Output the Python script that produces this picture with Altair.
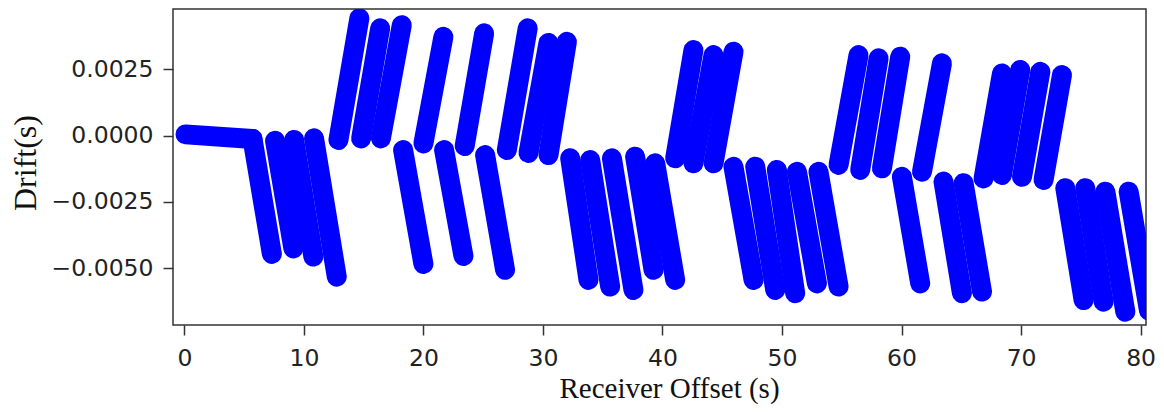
import altair as alt
import pandas as pd

# Each streak of overlapping markers, read off the picture as start/end points
# (receiver offset in s, drift in s)
streak_x0 = [0.10, 5.70, 7.59, 9.18, 10.85, 12.89, 14.79, 16.44, 18.30, 20.00,
             21.73, 23.45, 25.16, 26.98, 28.79, 30.46, 32.28, 33.95, 35.77, 37.71,
             39.39, 41.06, 42.59, 44.27, 45.94, 47.76, 49.57, 51.25, 53.05, 54.73,
             56.54, 58.36, 60.03, 61.71, 63.51, 65.19, 66.86, 68.40, 70.08, 71.88,
             73.70, 75.37, 77.05, 79.00]
streak_y0 = [0.00005, -0.00012, -0.00019, -0.00016, -0.00010, -0.00016, -0.00010, -0.00010, -0.00054, -0.00029,
             -0.00054, -0.00039, -0.00073, -0.00054, -0.00065, -0.00073, -0.00085, -0.00092, -0.00085, -0.00079,
             -0.00104, -0.00085, -0.00104, -0.00104, -0.00117, -0.00117, -0.00129, -0.00136, -0.00136, -0.00110,
             -0.00129, -0.00123, -0.00155, -0.00136, -0.00173, -0.00179, -0.00161, -0.00148, -0.00155, -0.00167,
             -0.00198, -0.00198, -0.00211, -0.00211]
streak_x1 = [5.70, 7.32, 9.12, 10.79, 12.75, 14.64, 16.38, 18.19, 20.00, 21.67,
             23.35, 25.08, 26.83, 28.72, 30.46, 32.00, 33.81, 35.62, 37.57, 39.25,
             41.06, 42.59, 44.27, 45.94, 47.62, 49.43, 51.10, 52.92, 54.73, 56.40,
             58.08, 59.89, 61.56, 63.38, 65.05, 66.73, 68.40, 69.93, 71.61, 73.42,
             75.23, 76.90, 78.72, 80.70]
streak_y1 = [-0.00012, -0.00446, -0.00425, -0.00456, -0.00532, 0.00443, 0.00405, 0.00417, -0.00484, 0.00373,
             -0.00454, 0.00386, -0.00506, 0.00405, 0.00350, 0.00354, -0.00544, -0.00569, -0.00582, -0.00506,
             -0.00544, 0.00323, 0.00304, 0.00317, -0.00544, -0.00582, -0.00594, -0.00557, -0.00569, 0.00304,
             0.00292, 0.00298, -0.00557, 0.00273, -0.00594, -0.00588, 0.00235, 0.00248, 0.00241, 0.00229,
             -0.00620, -0.00626, -0.00664, -0.00660]

x_ticks = [0, 10, 20, 30, 40, 50, 60, 70, 80]
y_ticks = [-0.005, -0.0025, 0.0, 0.0025]

rows = []
for i, (a, b, c, d) in enumerate(zip(streak_x0, streak_y0, streak_x1, streak_y1)):
    rows.append({"streak": i, "pt": 0, "offset": a, "drift": b})
    rows.append({"streak": i, "pt": 1, "offset": c, "drift": d})
df = pd.DataFrame(rows)

chart = alt.Chart(df).mark_line(
    color="#0000ff", strokeWidth=20, strokeCap="round", strokeJoin="round", clip=True
).encode(
    x=alt.X("offset:Q",
            scale=alt.Scale(domain=[-0.95, 80.45], nice=False, zero=False),
            axis=alt.Axis(values=x_ticks, title="Receiver Offset (s)", format="d",
                          grid=False, domain=False, tickSize=10, tickWidth=1.5, tickColor="#333",
                          labelPadding=11, labelFont="DejaVu Sans", labelFontSize=23.5,
                          labelColor="#222", labelFlush=False, labelOverlap=False,
                          titleFont="Liberation Serif", titleFontSize=29, titleFontWeight="normal",
                          titleColor="#111", titleX=496, titleY=72, titleBaseline="alphabetic",
                          titleAlign="center")),
    y=alt.Y("drift:Q",
            scale=alt.Scale(domain=[-0.00714, 0.00478], nice=False, zero=False),
            axis=alt.Axis(values=y_ticks, title="Drift(s)", format=".4f",
                          grid=False, domain=False, tickSize=10, tickWidth=1.5, tickColor="#333",
                          labelPadding=10, labelFont="DejaVu Sans", labelFontSize=23.5,
                          labelColor="#222", labelFlush=False, labelOverlap=False,
                          titleFont="Liberation Serif", titleFontSize=32, titleFontWeight="normal",
                          titleColor="#111", titleX=-138, titleY=153.5, titleBaseline="alphabetic",
                          titleAlign="center", titleAngle=270)),
    detail="streak:N",
    order="pt:Q",
).properties(
    width=973, height=316,
    padding={"left": 165, "top": 1, "right": 10, "bottom": 80},
    autosize="none",
).configure_view(stroke="#333", strokeWidth=1.5)

chart.save("out.html", embed_options={"renderer": "svg", "actions": False})
